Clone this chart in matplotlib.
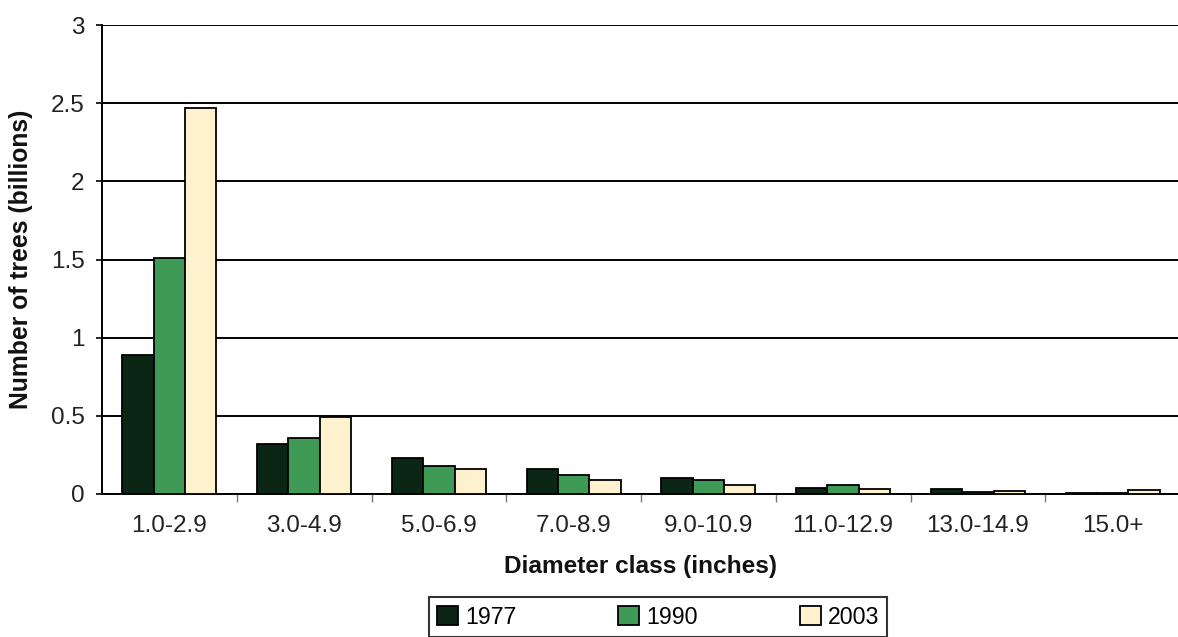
import matplotlib.pyplot as plt
import numpy as np

plt.rcParams['font.family'] = ['Liberation Sans', 'DejaVu Sans']

categories = ["1.0-2.9", "3.0-4.9", "5.0-6.9", "7.0-8.9",
              "9.0-10.9", "11.0-12.9", "13.0-14.9", "15.0+"]
years = ["1977", "1990", "2003"]
trees_1977 = [0.89, 0.32, 0.23, 0.16, 0.10, 0.04, 0.03, 0.006]
trees_1990 = [1.51, 0.36, 0.18, 0.12, 0.09, 0.055, 0.015, 0.006]
trees_2003 = [2.47, 0.49, 0.16, 0.09, 0.06, 0.035, 0.02, 0.025]
colors = ["#0b2614", "#3f9a56", "#fdf2cd"]

W, H = 1178, 637
fig = plt.figure(figsize=(W / 100, H / 100), dpi=100)
fig.patch.set_facecolor("white")
ax = fig.add_axes([102 / W, 1 - 494 / H, (1180 - 102) / W, (494 - 25) / H])

x = np.arange(len(categories))
bw = 0.232
series = [trees_1977, trees_1990, trees_2003]
for i, (vals, c, yr) in enumerate(zip(series, colors, years)):
    ax.bar(x + (i - 1) * bw, vals, width=bw, color=c, edgecolor="black",
           linewidth=1.3, label=yr, zorder=3)

ax.set_xlim(-0.5, len(categories) - 0.5)
ax.set_ylim(0, 3)
ax.set_yticks([0, 0.5, 1, 1.5, 2, 2.5, 3])
ax.set_yticklabels(["0", "0.5", "1", "1.5", "2", "2.5", "3"])
ax.yaxis.grid(True, color="black", linewidth=1.4, zorder=0)
ax.set_axisbelow(True)

ax.set_xticks(x)
ax.set_xticklabels(categories)
ax.set_xticks(np.arange(0.5, len(categories) - 0.5, 1), minor=True)
ax.tick_params(axis="x", which="major", length=0, labelsize=17.5, pad=15,
               colors="#222222")
ax.tick_params(axis="x", which="minor", length=6, width=1, color="#777777")
ax.tick_params(axis="y", length=4.5, width=1.2, labelsize=17.5, pad=8,
               colors="#222222")
ax.tick_params(axis="y", color="black")

for s in ["top", "right"]:
    ax.spines[s].set_visible(False)
for s in ["left", "bottom"]:
    ax.spines[s].set_linewidth(1.4)
    ax.spines[s].set_color("black")

ax.set_xlabel("Diameter class (inches)", fontsize=17.6, fontweight="bold",
              labelpad=13, color="#111111")
ax.set_ylabel("Number of trees (billions)", fontsize=17.8, fontweight="bold",
              labelpad=13, color="#111111")

leg = fig.legend(loc="center", bbox_to_anchor=(658 / W, 1 - 617 / H),
                 ncol=3, fontsize=16.7, frameon=True, fancybox=False,
                 edgecolor="black", handlelength=0.9, handleheight=0.9,
                 handletextpad=0.3, columnspacing=4.4, borderpad=0.35)
leg.get_frame().set_linewidth(1.5)

fig.savefig("out.png", dpi=100, facecolor="white")
